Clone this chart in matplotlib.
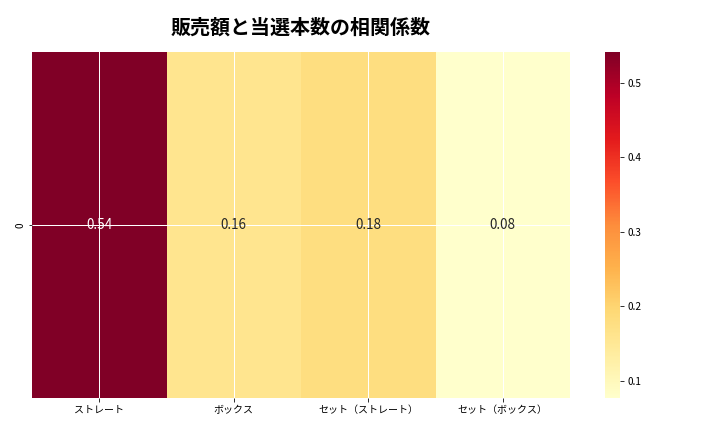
import matplotlib
matplotlib.use('Agg')
import matplotlib.pyplot as plt
import numpy as np
import pandas as pd
import seaborn as sns

plt.rcParams['font.family'] = ['Noto Sans CJK JP', 'DejaVu Sans']

# correlation between sales and number of winners per bet type
categories = ['ストレート', 'ボックス', 'セット（ストレート）', 'セット（ボックス）']
corr_values = [0.541, 0.16, 0.18, 0.077]

df = pd.DataFrame([corr_values], columns=categories)

W, H = 720, 432
fig = plt.figure(figsize=(10, 6), dpi=72)
ax = fig.add_axes([32 / W, (H - 398) / H, 538 / W, 346 / H])
cax = fig.add_axes([605 / W, (H - 398) / H, 15 / W, 346 / H])

sns.heatmap(df, annot=True, fmt='.2f', cmap='YlOrRd', ax=ax, cbar_ax=cax,
            annot_kws={'fontsize': 13.5})
ax.grid(True, color='white', linewidth=1)
ax.set_title('販売額と当選本数の相関係数', fontsize=20, fontweight='bold', pad=18)
ax.tick_params(axis='both', labelsize=10)
cax.tick_params(labelsize=10)

plt.savefig('out.png', dpi=72)
